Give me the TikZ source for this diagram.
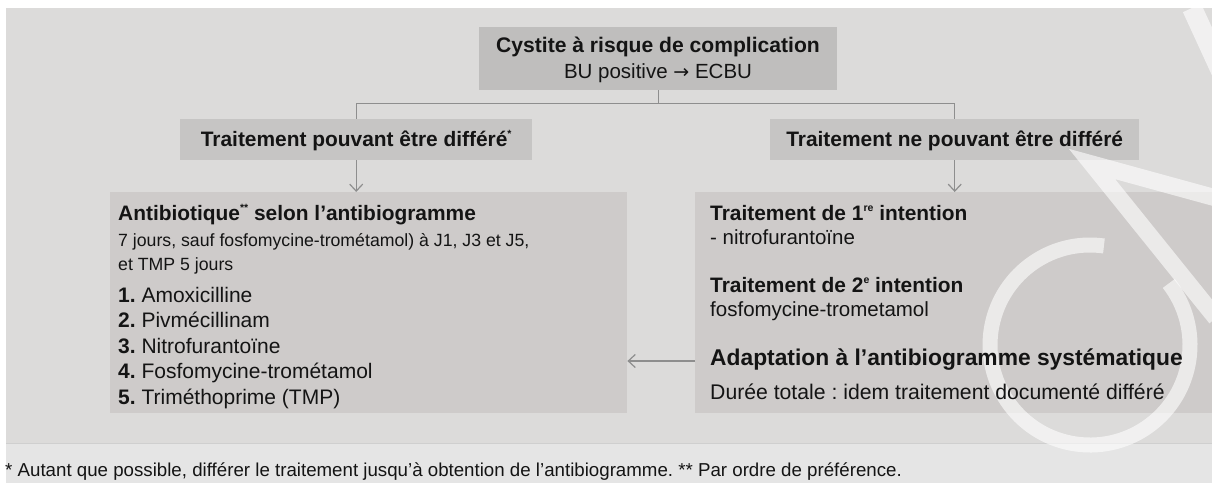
\documentclass[tikz,border=0pt]{standalone}
\usepackage{fontspec}
\setmainfont{Liberation Sans}
\newfontfamily\arrowfont{DejaVu Sans}
\usetikzlibrary{arrows.meta}

\definecolor{panelbg}{HTML}{DCDBDA}
\definecolor{footbg}{HTML}{E5E5E5}
\definecolor{rulegray}{HTML}{CFCFCF}
\definecolor{topfill}{HTML}{BFBEBD}
\definecolor{midfill}{HTML}{C6C5C4}
\definecolor{lowfill}{HTML}{CECBCA}
\definecolor{linkgray}{HTML}{8E8E8E}
\definecolor{ink}{HTML}{141414}

% small raised marks (asterisks, ordinal suffixes)
\newcommand{\supmark}[1]{\raisebox{0.42em}{\fontsize{10.5}{10.5}\selectfont #1}}

\tikzset{
  box/.style={rectangle, inner sep=0pt, anchor=north west},
  topbox/.style={box, fill=topfill},
  midbox/.style={box, fill=midfill},
  lowbox/.style={box, fill=lowfill},
  link/.style={draw=linkgray, line width=1.3pt},
  arrowlink/.style={link, -{Straight Barb[length=7pt,width=13pt,line width=1.2pt]}},
  txt/.style={inner sep=0pt, text=ink, execute at begin node=\frenchspacing},
  headtxt/.style={txt, font=\fontsize{20.9}{24}\selectfont\bfseries},
  titletxt/.style={txt, font=\fontsize{21.1}{24}\selectfont\bfseries},
  bigtxt/.style={txt, font=\fontsize{22.8}{26}\selectfont\bfseries},
  regtxt/.style={txt, font=\fontsize{20.5}{24}\selectfont},
  dureetxt/.style={txt, font=\fontsize{21.2}{24}\selectfont},
  smalltxt/.style={txt, font=\fontsize{17.7}{22}\selectfont},
  itemtxt/.style={txt, font=\fontsize{21}{25}\selectfont},
  foottxt/.style={txt, font=\fontsize{18.7}{22}\selectfont},
  watermark/.style={draw=white, opacity=0.6, line width=15pt},
}

\begin{document}
\begin{tikzpicture}[x=1pt,y=-1pt]
\useasboundingbox (0,0) rectangle (1212,483);
\fill[white] (0,0) rectangle (1212,483);
% background panel and footnote band
\fill[panelbg] (6,8) rectangle (1212,443);
\fill[footbg] (6,444) rectangle (1212,483);
\draw[rulegray, line width=1.2pt] (6,443.5) -- (1212,443.5);

% boxes
\node[topbox, minimum width=358pt, minimum height=63pt] (top) at (479,27) {};
\node[midbox, minimum width=352pt, minimum height=41pt] (midL) at (180,119) {};
\node[midbox, minimum width=369pt, minimum height=41pt] (midR) at (770,119) {};
\node[lowbox, minimum width=517pt, minimum height=221pt] (lowL) at (110,192) {};
\node[lowbox, minimum width=517pt, minimum height=221pt] (lowR) at (695,192) {};

% connectors
\draw[link] (top.south) -- ++(0,13) -| (midL.north);
\draw[link] (top.south) -- ++(0,13) -| (midR.north);
\draw[arrowlink] (midL.south) -- (midL.south |- lowL.north);
\draw[arrowlink] (midR.south) -- (midR.south |- lowR.north);
\coordinate (adaptY) at (0,361);
\draw[arrowlink] (lowR.west |- adaptY) -- (lowL.east |- adaptY);

% watermark logo
\begin{scope}
\clip (6,8) rectangle (1212,483);
\draw[watermark] (1090,345) ++(-82:100) arc[start angle=-82, end angle=-398, radius=100];
\draw[watermark, line width=20pt] (1192,8) -- (1226,82);
\draw[watermark, line width=17pt, line join=miter] (1216,198) -- (1092,164) -- (1216,318);
\end{scope}

% top box
\node[titletxt, anchor=base] (t1) at (658,52) {Cystite à risque de complication};
\node[regtxt, anchor=base] (t2) at (658,78) {BU positive {\arrowfont\fontsize{19}{20}\selectfont →} ECBU};

% middle labels
\node[headtxt, anchor=base] (m1) at (midL.center |- 0,146) {Traitement pouvant être différé\supmark{*}};
\node[headtxt, anchor=base] (m2) at (midR.center |- 0,146) {Traitement ne pouvant être différé};

% left box contents
\node[headtxt, anchor=base west] (l0) at (118,220) {Antibiotique\supmark{**} selon l’antibiogramme};
\node[smalltxt, anchor=base west] (l1) at (118,246) {7 jours, sauf fosfomycine-trométamol) à J1, J3 et J5,};
\node[smalltxt, anchor=base west] (l2) at (118,270) {et TMP 5 jours};
\node[itemtxt, anchor=base west] (i1) at (118,302) {\textbf{1.} Amoxicilline};
\node[itemtxt, anchor=base west] (i2) at (118,327.5) {\textbf{2.} Pivmécillinam};
\node[itemtxt, anchor=base west] (i3) at (118,353) {\textbf{3.} Nitrofurantoïne};
\node[itemtxt, anchor=base west] (i4) at (118,378.5) {\textbf{4.} Fosfomycine-trométamol};
\node[itemtxt, anchor=base west] (i5) at (118,404) {\textbf{5.} Triméthoprime (TMP)};

% right box contents
\node[headtxt, anchor=base west] (r1) at (710,220) {Traitement de 1\supmark{re} intention};
\node[regtxt, anchor=base west] (r2) at (710,244) {- nitrofurantoïne};
\node[headtxt, anchor=base west] (r3) at (710,292) {Traitement de 2\supmark{e} intention};
\node[regtxt, anchor=base west] (r4) at (710,316) {fosfomycine-trometamol};
\node[bigtxt, anchor=base west] (r5) at (710,365) {Adaptation à l’antibiogramme systématique};
\node[dureetxt, anchor=base west] (r6) at (710,399) {Durée totale : idem traitement documenté différé};

% footnote
\node[foottxt, anchor=base west] (fn) at (5,476) {* Autant que possible, différer le traitement jusqu’à obtention de l’antibiogramme. ** Par ordre de préférence.};
\end{tikzpicture}
\end{document}
